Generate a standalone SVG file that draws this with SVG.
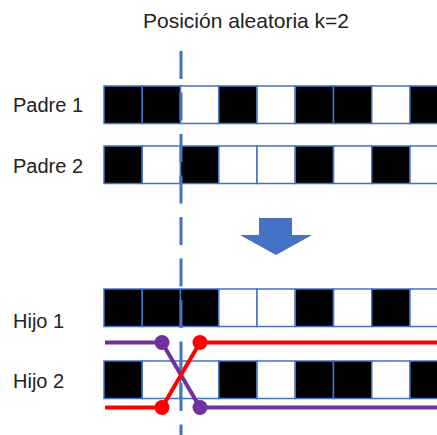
<svg xmlns="http://www.w3.org/2000/svg" width="437" height="435" viewBox="0 0 437 435">
  <style>
    .lbl { font-family: "Liberation Sans", Arial, sans-serif; font-size: 20px; fill: #222; }
    .title { font-family: "Liberation Sans", Arial, sans-serif; font-size: 21px; fill: #222; }
    .b { fill: #000; stroke: #4472C4; stroke-width: 1.5; }
    .w { fill: #fff; stroke: #4472C4; stroke-width: 1.5; }
    .cut { stroke: #4472C4; stroke-width: 3; stroke-dasharray: 28 13.5; fill: none; }
    .purple { stroke: #7030A0; stroke-width: 4; fill: none; stroke-linejoin: round; }
    .red { stroke: #FF0000; stroke-width: 4; fill: none; stroke-linejoin: round; }
  </style>
  <defs>
    <rect id="cb" class="b" width="38.25" height="37.5"/>
    <rect id="cw" class="w" width="38.25" height="37.5"/>
  </defs>
  <rect width="437" height="435" fill="#fff"/>

  <text class="title" x="143" y="28">Posición aleatoria k=2</text>

  <!-- Padre 1: B B W B W B B W B -->
  <g id="padre1">
    <text class="lbl" x="13" y="112">Padre 1</text>
    <g transform="translate(104,86)">
      <use href="#cb" x="0"/><use href="#cb" x="38.25"/><use href="#cw" x="76.5"/>
      <use href="#cb" x="114.75"/><use href="#cw" x="153"/><use href="#cb" x="191.25"/>
      <use href="#cb" x="229.5"/><use href="#cw" x="267.75"/><use href="#cb" x="306"/>
    </g>
  </g>

  <!-- Padre 2: B W B W W B W B W -->
  <g id="padre2">
    <text class="lbl" x="13" y="173">Padre 2</text>
    <g transform="translate(104,146)">
      <use href="#cb" x="0"/><use href="#cw" x="38.25"/><use href="#cb" x="76.5"/>
      <use href="#cw" x="114.75"/><use href="#cw" x="153"/><use href="#cb" x="191.25"/>
      <use href="#cw" x="229.5"/><use href="#cb" x="267.75"/><use href="#cw" x="306"/>
    </g>
  </g>

  <!-- down arrow -->
  <g id="arrow">
    <polygon points="259,218 292,218 292,235 312,235 276,255 240,235 259,235" fill="#4472C4"/>
  </g>

  <!-- Hijo 1: B B B W W B W B W -->
  <g id="hijo1">
    <text class="lbl" x="13" y="328">Hijo 1</text>
    <g transform="translate(104,289)">
      <use href="#cb" x="0"/><use href="#cb" x="38.25"/><use href="#cb" x="76.5"/>
      <use href="#cw" x="114.75"/><use href="#cw" x="153"/><use href="#cb" x="191.25"/>
      <use href="#cw" x="229.5"/><use href="#cb" x="267.75"/><use href="#cw" x="306"/>
    </g>
  </g>

  <!-- Hijo 2: B W W B W B B W B -->
  <g id="hijo2">
    <text class="lbl" x="13" y="388">Hijo 2</text>
    <g transform="translate(104,361)">
      <use href="#cb" x="0"/><use href="#cw" x="38.25"/><use href="#cw" x="76.5"/>
      <use href="#cb" x="114.75"/><use href="#cw" x="153"/><use href="#cb" x="191.25"/>
      <use href="#cb" x="229.5"/><use href="#cw" x="267.75"/><use href="#cb" x="306"/>
    </g>
  </g>

  <!-- crossover point and swapped tails -->
  <g id="connectors">
    <line class="cut" x1="181" y1="51" x2="181" y2="435"/>
    <polyline class="purple" points="105,342.5 162,342.5 200,407.5 437,407.5"/>
    <polyline class="red" points="105,407.5 162,407.5 200,342.5 437,342.5"/>
    <circle cx="162" cy="342.5" r="7.5" fill="#7030A0"/>
    <circle cx="200" cy="407.5" r="7.5" fill="#7030A0"/>
    <circle cx="162" cy="407.5" r="7.5" fill="#FF0000"/>
    <circle cx="200" cy="342.5" r="7.5" fill="#FF0000"/>
  </g>
</svg>
